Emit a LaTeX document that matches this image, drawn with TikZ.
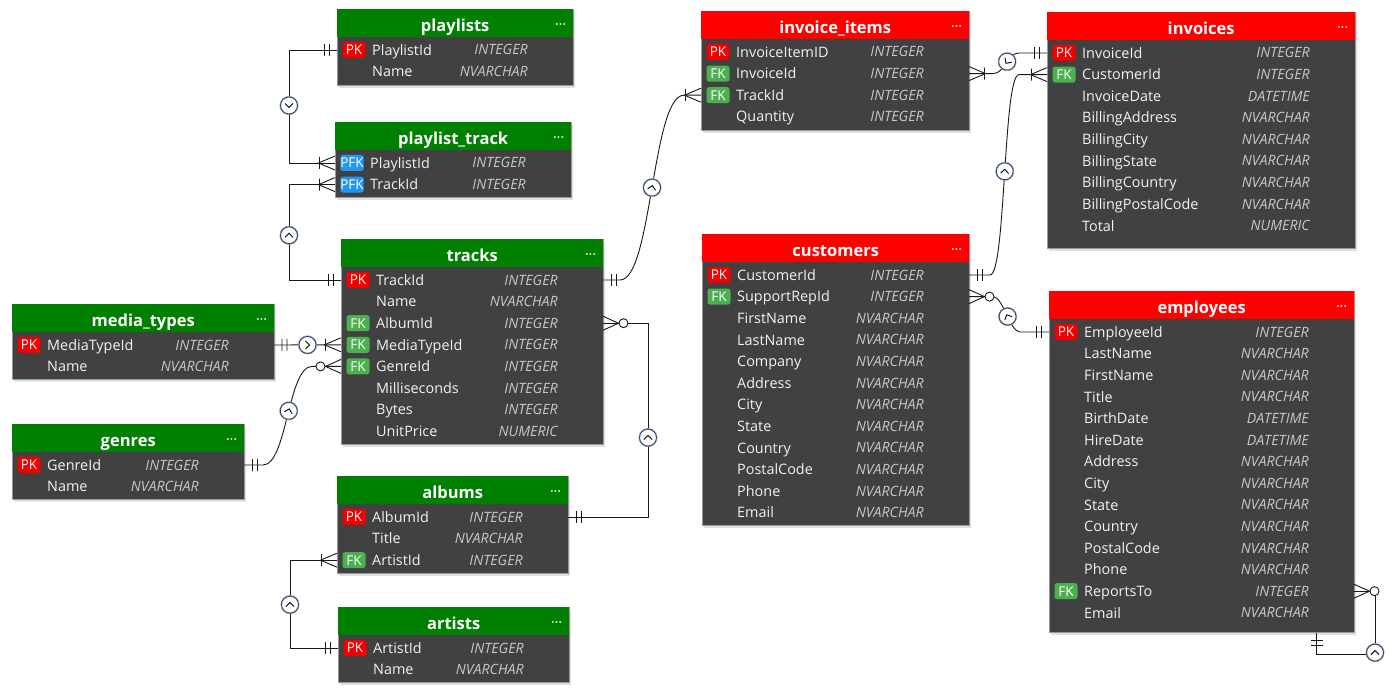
\documentclass[tikz,border=0pt]{standalone}
\usepackage{fontspec}
\setmainfont{Open Sans}
\usepackage{tikz}
\usetikzlibrary{calc, decorations.markings}

\definecolor{hdgreen}{HTML}{008000}
\definecolor{hdred}{HTML}{FF0000}
\definecolor{tblgray}{HTML}{414141}
\definecolor{colwhite}{HTML}{F2F2F2}
\definecolor{typgray}{HTML}{C8C8C8}
\definecolor{keyPK}{HTML}{F20000}
\definecolor{keyFK}{HTML}{4CAF50}
\definecolor{keyPFK}{HTML}{2196F3}
\definecolor{dirblue}{HTML}{1A4E9C}
\definecolor{dirorange}{HTML}{E8A040}

\tikzset{
  tbl/.style ={rectangle, draw=black!40, fill=tblgray, inner sep=0pt, line width=0.6pt},
  hdr/.style ={rectangle, inner sep=0pt, minimum height=28pt},
  ttl/.style ={text=white, inner sep=0pt, font=\fontsize{16.5}{19}\selectfont\bfseries},
  col/.style ={text=colwhite, inner sep=0pt, font=\fontsize{14.4}{16}\selectfont},
  typ/.style ={text=typgray, inner sep=0pt, font=\fontsize{14.2}{16}\selectfont\itshape},
  key/.style ={rectangle, rounded corners=2.5pt, text=white, inner sep=0pt, minimum width=23pt, minimum height=16pt, font=\fontsize{13.5}{15}\selectfont},
  shd/.style ={fill=black, opacity=0.12},
  erl/.style ={draw=black!90, line width=0.9pt},
  onestart/.style={postaction={decorate, decoration={markings,
      mark=at position 8pt with {\draw[erl] (0,-6) -- (0,6);},
      mark=at position 13pt with {\draw[erl] (0,-6) -- (0,6);}}}},
  manyend/.style={postaction={decorate, decoration={markings,
      mark=at position -0.5pt with {\draw[erl] (0.5,-7) -- (-16,0) -- (0.5,7) (-15,-6) -- (-15,6);}}}},
  zmanyend/.style={postaction={decorate, decoration={markings,
      mark=at position -0.5pt with {\draw[erl] (0.5,-7) -- (-15,0) -- (0.5,7); \draw[erl, fill=white] (-20,0) circle (4.5pt);}}}},
  dirmid/.style={postaction={decorate, decoration={markings,
      mark=at position 0.5 with {\draw[dirorange, line width=0.6pt] (0,0) circle (9.2pt);
        \draw[dirblue, fill=white, line width=1pt] (0,0) circle (8.5pt);
        \draw[black, line width=0.9pt] (-2,-4) -- (2,0) -- (-2,4);}}}},
}

% table: name, x, y, width, height, header colour, title, rows
\newcommand{\erdtable}[8]{%
  \fill[shd] (#2+2,#3+3) rectangle ++(#4,#5);
  \node[tbl, minimum width=#4pt, minimum height=#5pt, anchor=north west] (#1) at (#2,#3) {};
  \node[hdr, fill=#6, minimum width=#4pt, anchor=north west] (#1-head) at (#2,#3) {};
  \node[ttl, anchor=base] (#1-title) at ($(#1-head.north)+(0,22.5)$) {#7};
  \foreach \d in {-3.6,0,3.6}
    \fill[white] ($(#1-head.north east)+(-13+\d,15)$) circle (1pt);
  \foreach \k/\f/\t [count=\i] in {#8}{%
    \pgfmathsetmacro{\ry}{#3+41+(\i-1)*21.6}
    \coordinate (#1-\f-w) at (#2,\ry);
    \coordinate (#1-\f-e) at (#2+#4,\ry);
    \node[col, anchor=base west] (#1-\f) at (#2+35,\ry+5.2) {\f};
    \node[typ, anchor=base east] at (#2+#4-45,\ry+5) {\t};
    \ifx\k\empty\else
      \node[key, fill=key\k] at (#2+17,\ry) {\k};
    \fi
  }%
}

\begin{document}
\begin{tikzpicture}[x=1pt, y=-1pt]
\useasboundingbox (0,0) rectangle (1389,695);
\fill[white] (0,0) rectangle (1389,695);

% green tables
\erdtable{plist}{337}{9}{236}{76}{hdgreen}{playlists}{PK/PlaylistId/INTEGER, /Name/NVARCHAR}
\erdtable{ptrack}{335}{122}{236}{75}{hdgreen}{playlist\_track}{PFK/PlaylistId/INTEGER, PFK/TrackId/INTEGER}
\erdtable{tracks}{341}{239}{262}{205}{hdgreen}{tracks}{PK/TrackId/INTEGER, /Name/NVARCHAR,
  FK/AlbumId/INTEGER, FK/MediaTypeId/INTEGER, FK/GenreId/INTEGER,
  /Milliseconds/INTEGER, /Bytes/INTEGER, /UnitPrice/NUMERIC}
\erdtable{mtypes}{12}{304}{262}{75}{hdgreen}{media\_types}{PK/MediaTypeId/INTEGER, /Name/NVARCHAR}
\erdtable{genres}{12}{424}{232}{75}{hdgreen}{genres}{PK/GenreId/INTEGER, /Name/NVARCHAR}
\erdtable{albums}{337}{476}{231}{97}{hdgreen}{albums}{PK/AlbumId/INTEGER, /Title/NVARCHAR, FK/ArtistId/INTEGER}
\erdtable{artists}{338}{607}{231}{75}{hdgreen}{artists}{PK/ArtistId/INTEGER, /Name/NVARCHAR}

% red tables
\erdtable{iitems}{701}{11}{268}{119}{hdred}{invoice\_items}{PK/InvoiceItemID/INTEGER,
  FK/InvoiceId/INTEGER, FK/TrackId/INTEGER, /Quantity/INTEGER}
\erdtable{cust}{702}{234}{267}{291}{hdred}{customers}{PK/CustomerId/INTEGER,
  FK/SupportRepId/INTEGER, /FirstName/NVARCHAR, /LastName/NVARCHAR, /Company/NVARCHAR,
  /Address/NVARCHAR, /City/NVARCHAR, /State/NVARCHAR, /Country/NVARCHAR,
  /PostalCode/NVARCHAR, /Phone/NVARCHAR, /Email/NVARCHAR}
\erdtable{inv}{1047}{12}{308}{236}{hdred}{invoices}{PK/InvoiceId/INTEGER,
  FK/CustomerId/INTEGER, /InvoiceDate/DATETIME, /BillingAddress/NVARCHAR,
  /BillingCity/NVARCHAR, /BillingState/NVARCHAR, /BillingCountry/NVARCHAR,
  /BillingPostalCode/NVARCHAR, /Total/NUMERIC}
\erdtable{emp}{1049}{291}{305}{341}{hdred}{employees}{PK/EmployeeId/INTEGER,
  /LastName/NVARCHAR, /FirstName/NVARCHAR, /Title/NVARCHAR, /BirthDate/DATETIME,
  /HireDate/DATETIME, /Address/NVARCHAR, /City/NVARCHAR, /State/NVARCHAR,
  /Country/NVARCHAR, /PostalCode/NVARCHAR, /Phone/NVARCHAR,
  FK/ReportsTo/INTEGER, /Email/NVARCHAR}

% relations (one side first)
\draw[erl, onestart, manyend, dirmid] (plist-PlaylistId-w) -- ++(-48,0) |- (ptrack-PlaylistId-w);
\draw[erl, onestart, manyend, dirmid] (tracks-TrackId-w) -- ++(-52,0) |- (ptrack-TrackId-w);
\draw[erl, onestart, manyend, dirmid] (mtypes-MediaTypeId-e) -- (tracks-MediaTypeId-w);
\draw[erl, onestart, zmanyend, dirmid] (genres-GenreId-e) -- ++(19,0)
  to[out=0, in=180, distance=24pt] ($(tracks-GenreId-w)+(-29,0)$) -- (tracks-GenreId-w);
\draw[erl, onestart, zmanyend, dirmid] (albums-AlbumId-e) -- ++(80,0) |- (tracks-AlbumId-e);
\draw[erl, onestart, manyend, dirmid] (artists-ArtistId-w) -- ++(-48,0) |- (albums-ArtistId-w);
\draw[erl, onestart, manyend, dirmid] (tracks-TrackId-e) -- ++(17,0)
  to[out=0, in=180, distance=32pt] ($(iitems-TrackId-w)+(-17,0)$) -- (iitems-TrackId-w);
\draw[erl, onestart, manyend, dirmid] (inv-InvoiceId-w) -- ++(-28,0)
  to[out=180, in=0, distance=12pt] ($(iitems-InvoiceId-e)+(24,0)$) -- (iitems-InvoiceId-e);
\draw[erl, onestart, manyend, dirmid] (cust-CustomerId-e) -- ++(21,0)
  to[out=0, in=180, distance=16pt] ($(inv-CustomerId-w)+(-28,0)$) -- (inv-CustomerId-w);
\draw[erl, onestart, zmanyend, dirmid] (emp-EmployeeId-w) -- ++(-29,0)
  to[out=180, in=0, distance=10pt] ($(cust-SupportRepId-e)+(24,0)$) -- (cust-SupportRepId-e);

% self relation of employees
\coordinate (emp-foot) at ($(emp.south east)+(-38,0)$);
\draw[erl, onestart, zmanyend, dirmid] (emp-foot) -- ++(0,22) -| ($(emp-ReportsTo-e)+(21,0)$) -- (emp-ReportsTo-e);

\end{tikzpicture}
\end{document}
